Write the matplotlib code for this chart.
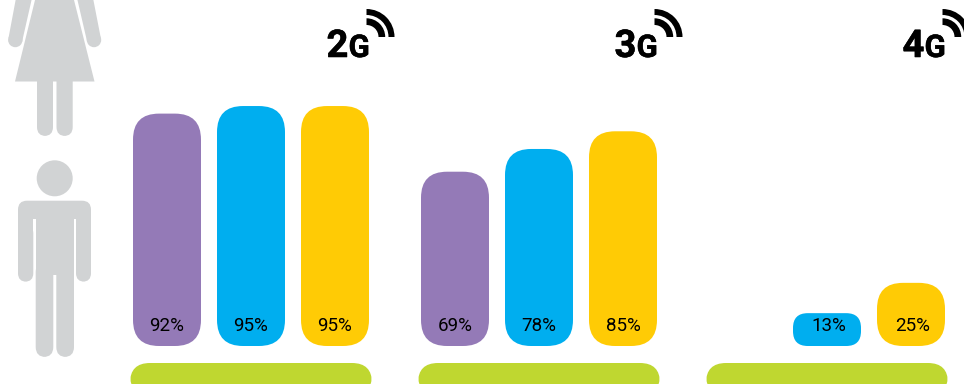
import numpy as np
import matplotlib
matplotlib.use("Agg")
import matplotlib.pyplot as plt
import matplotlib.patheffects as pe
from matplotlib.patches import FancyBboxPatch, Polygon, Circle, Wedge

plt.rcParams['font.family'] = ['Roboto', 'DejaVu Sans']

generations = ['2G', '3G', '4G']
series_purple = [92, 69, None]
series_blue = [95, 78, 13]
series_yellow = [95, 85, 25]

PURPLE = '#947ab7'
BLUE = '#00aeef'
YELLOW = '#ffcb05'
GREEN = '#bfd730'
GREY = '#d1d3d4'

W, H = 964, 384
BASE = 346          # pixel row of the zero line
PX_PER_PCT = 2.526

fig = plt.figure(figsize=(W / 100, H / 100), dpi=100)

# pixel axes for icons, headings and the green strips
deco = fig.add_axes([0, 0, 1, 1])
deco.set_xlim(0, W)
deco.set_ylim(H, 0)
deco.axis('off')

# value axes for the bars, x still in pixels
ax = fig.add_axes([0, 0, 1, 1])
ax.set_xlim(0, W)
ax.set_ylim(-(H - BASE) / PX_PER_PCT, BASE / PX_PER_PCT)
ax.axis('off')
ax.patch.set_alpha(0)


def rounded(a, x0, x1, y0, y1, r, color, aspect=1.0):
    p = FancyBboxPatch((x0, y0), x1 - x0, y1 - y0,
                       boxstyle="round,pad=0,rounding_size=%s" % r,
                       mutation_aspect=aspect, fc=color, ec='none')
    a.add_patch(p)


def rect(x0, x1, y0, y1, color):
    deco.add_patch(Polygon([(x0, y0), (x1, y0), (x1, y1), (x0, y1)], fc=color, ec='none'))


def wifi(cx, cy):
    for r0, r1 in [(12, 18.7), (22, 28)]:
        deco.add_patch(Wedge((cx, cy), r1, 270, 360, width=r1 - r0, fc='black', ec='none'))


# woman
deco.add_patch(Polygon([(35.5, -2), (73.5, -2), (94.5, 81.5), (15, 81.5)], fc=GREY, ec='none'))
deco.add_patch(Polygon([(16, -2), (32, -2), (22, 42), (8.5, 38)], fc=GREY, ec='none'))
deco.add_patch(Polygon([(77, -2), (93, -2), (100.8, 38), (87.2, 42)], fc=GREY, ec='none'))
deco.add_patch(Circle((15.3, 40), 7.2, fc=GREY, ec='none'))
deco.add_patch(Circle((94, 40), 7.2, fc=GREY, ec='none'))
rounded(deco, 37, 53, 70, 136, 9, GREY)
rounded(deco, 56.5, 72.7, 70, 136, 9, GREY)

# man
deco.add_patch(Circle((54.7, 178.3), 18, fc=GREY, ec='none'))
rounded(deco, 18, 91, 200.7, 245, 9, GREY)
rect(33.3, 35.7, 219, 290, 'white')
rect(74, 76, 219, 290, 'white')
rounded(deco, 18, 33.3, 225, 281.7, 8.5, GREY)
rounded(deco, 76, 91, 225, 281.7, 8.5, GREY)
rect(35.7, 74, 205, 275, GREY)
rounded(deco, 35.7, 53.3, 262, 357, 10, GREY)
rounded(deco, 56.3, 74, 262, 357, 10, GREY)

group_left = [133, 421, 709]
label_shift = [0, 0, 2]
bar_w = 68
bar_step = 84
colors = [PURPLE, BLUE, YELLOW]
all_series = [series_purple, series_blue, series_yellow]
thicken = [pe.withStroke(linewidth=0.4, foreground='black')]

for g, name in enumerate(generations):
    left = group_left[g]

    # heading with the signal arcs
    deco.text(left + 215.5, 57, name[0], ha='right', va='baseline', fontsize=27.5,
              fontweight='bold', color='black', path_effects=thicken)
    deco.text(left + 215.5, 57, name[1], ha='left', va='baseline', fontsize=22.5,
              fontweight='bold', color='black', path_effects=thicken)
    wifi(left + 233.5, 37)

    rounded(deco, left - 3, left + 239, 363, 395, 20, GREEN)

    for s, values in enumerate(all_series):
        v = values[g]
        if v is None:
            continue
        x0 = left + s * bar_step
        h_px = v * PX_PER_PCT
        r = min(26, h_px * 0.45)
        rounded(ax, x0, x0 + bar_w, 0, v, r, colors[s], aspect=1 / PX_PER_PCT)
        ax.text(x0 + bar_w / 2 + label_shift[g], 5.9, '%d%%' % v, ha='center', va='baseline',
                fontsize=13.5, color='black')

fig.savefig('out.png', dpi=100)
